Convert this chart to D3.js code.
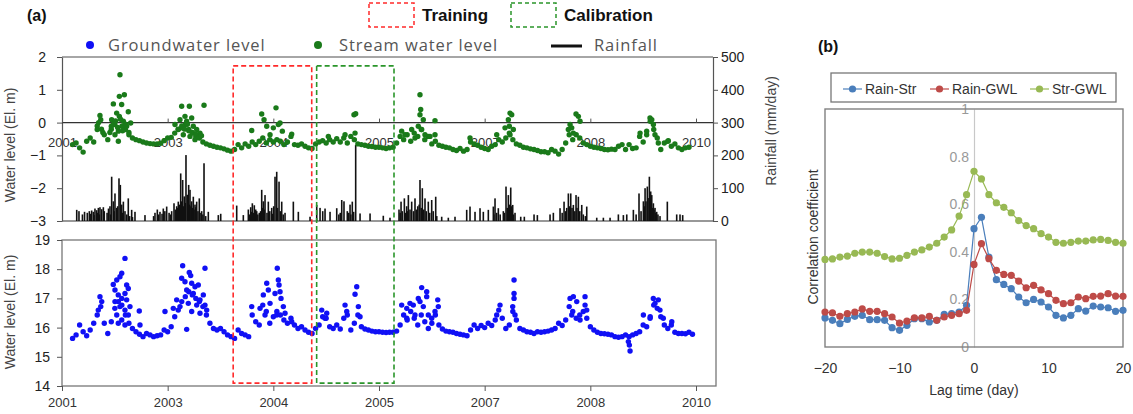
<!DOCTYPE html>
<html>
<head>
<meta charset="utf-8">
<script src="https://cdn.jsdelivr.net/npm/d3@7"></script>
<style>
  body { margin: 0; background: #fff; }
  svg { display: block; }
</style>
</head>
<body>
<svg id="chart" width="1133" height="414"></svg>
<script>
// ---- panel (a) data ----
const yearTicks = [2001, 2002.5, 2004, 2005.5, 2007, 2008.5, 2010]
const yearLabels = ["2001", "2003", "2004", "2005", "2007", "2008", "2010"]
const trainingPeriod = [2003.43, 2004.545]
const calibrationPeriod = [2004.615, 2005.713]

// regular traces: first sample at traceStart, one sample every traceStep years
const traceStart = 2001.15
const traceStep = 0.05

const streamLevel = [
  -0.67,-0.62,-0.77,-0.9,-0.57,-0.47,-0.59,-0.21,0.09,-0.37,
  -0.52,-0.11,-0.06,-0.26,-0.11,-0.21,-0.37,-0.47,-0.52,-0.55,
  -0.59,-0.62,-0.64,-0.65,-0.65,-0.63,-0.55,-0.47,-0.45,-0.32,
  -0.21,-0.16,-0.06,-0.21,-0.32,-0.42,-0.47,-0.59,-0.65,-0.69,
  -0.72,-0.75,-0.77,-0.8,-0.84,-0.87,-0.82,-0.67,-0.77,-0.65,
  -0.72,-0.59,-0.67,-0.57,-0.47,-0.62,-0.52,-0.59,-0.52,-0.57,
  -0.67,-0.59,-0.42,-0.67,-0.69,-0.65,-0.72,-0.77,-0.79,-0.65,
  -0.59,-0.55,-0.62,-0.52,-0.59,-0.49,-0.59,-0.47,-0.62,-0.42,
  -0.52,-0.65,-0.67,-0.69,-0.72,-0.73,-0.75,-0.75,-0.77,-0.79,
  -0.77,-0.75,-0.62,-0.42,-0.52,-0.37,-0.57,-0.32,-0.42,-0.21,
  -0.52,-0.42,-0.65,-0.57,-0.69,-0.72,-0.75,-0.77,-0.82,-0.85,
  -0.79,-0.87,-0.82,-0.59,-0.65,-0.69,-0.75,-0.79,-0.82,-0.72,
  -0.67,-0.52,-0.59,-0.47,-0.32,-0.52,-0.65,-0.69,-0.75,-0.77,
  -0.8,-0.82,-0.85,-0.89,-0.89,-0.92,-0.82,-0.87,-0.96,-0.82,
  -0.62,-0.37,-0.52,-0.37,-0.47,-0.62,-0.67,-0.72,-0.75,-0.77,
  -0.79,-0.82,-0.83,-0.81,-0.82,-0.72,-0.67,-0.82,-0.67,-0.79,
  -0.77,-0.42,-0.59,-0.37,0.04,-0.21,-0.47,-0.82,-0.62,-0.57,
  -0.72,-0.65,-0.77,-0.82,-0.77,-0.75
]

const groundwaterLevel = [
  15.63,15.75,16.09,15.86,15.72,15.92,16.15,16.43,16.72,16.15,
  15.8,16.2,16.66,16.89,16.77,16.43,16.15,15.97,15.86,15.77,
  15.69,15.8,15.75,15.69,15.72,15.75,15.92,15.86,16.03,16.37,
  16.6,16.89,17.06,17.23,17.12,17.0,16.89,16.72,16.43,16.15,
  15.97,15.92,15.97,15.86,15.75,15.69,15.63,15.92,15.8,15.75,
  15.69,16.43,16.2,16.09,16.77,16.55,16.15,16.37,16.55,16.43,
  16.26,16.15,16.32,16.09,15.97,16.03,15.92,15.84,15.8,15.97,
  16.09,16.37,16.32,16.03,15.97,16.09,15.95,16.32,16.43,15.92,
  16.15,16.43,16.03,15.95,15.92,15.88,15.86,15.86,15.84,15.83,
  15.84,15.84,15.88,16.09,16.43,16.26,16.55,16.32,16.09,16.43,
  16.2,15.97,16.15,16.43,16.09,15.95,15.88,15.86,15.84,15.8,
  15.77,15.75,15.72,15.92,16.09,15.97,16.07,16.0,16.15,16.07,
  16.26,16.6,16.32,15.97,16.09,16.55,16.26,15.97,15.92,15.86,
  15.84,15.8,15.86,15.84,15.86,15.88,15.92,15.97,16.15,16.07,
  16.26,16.72,16.55,16.32,16.43,16.55,16.32,16.03,15.92,15.84,
  15.8,15.79,15.77,15.75,15.69,15.67,15.69,15.75,15.69,15.75,
  15.8,15.86,16.09,16.03,16.37,16.77,16.66,16.37,16.09,15.97,
  16.09,15.84,15.8,15.8,15.79,15.84,15.77
]

// extra scattered readings during wet-season peaks: [year, value]
const streamPeaks = [
  [2001.823,1.46],[2001.814,0.80],[2001.885,0.85],[2001.729,0.57],[2001.847,0.55],
  [2001.941,0.33],[2001.776,0.29],[2001.539,0.22],[2001.705,0.09],[2001.814,0.19],
  [2001.871,0.04],[2001.752,-0.37],[2001.8,-0.57],[2001.918,-0.11],[2001.975,-0.01],
  [2001.70,-0.2],[2001.73,-0.05],[2001.76,0.05],[2001.79,-0.15],[2001.83,0.1],
  [2001.86,-0.25],[2001.9,-0.05],[2001.95,-0.3],[2001.68,-0.3],
  [2001.5,-0.1],[2001.52,0.0],[2001.56,-0.2],[2001.58,-0.3],
  [2002.699,0.50],[2002.808,0.50],[2003.016,0.53],[2002.746,0.19],[2002.841,0.14],
  [2002.675,0.09],[2002.77,0.04],[2002.604,-0.06],[2002.864,-0.11],[2002.912,-0.21],
  [2002.722,-0.37],[2002.817,-0.42],[2002.959,-0.32],[2002.888,-0.52],
  [2002.65,-0.2],[2002.7,-0.1],[2002.74,-0.2],[2002.78,-0.05],[2002.8,-0.25],
  [2002.85,-0.3],[2002.9,-0.35],[2002.94,-0.45],[2002.98,-0.4],
  [2003.835,0.26],[2004.038,0.45],[2003.868,0.09],[2003.906,-0.11],[2003.693,-0.24],
  [2004.0,-0.16],[2003.953,-0.37],[2004.071,-0.06],[2004.095,-0.01],[2004.128,-0.26],
  [2004.261,-0.35],
  [2005.145,0.24],[2005.169,0.27],[2005.16,-0.32],[2005.018,-0.37],[2004.781,-0.42],
  [2005.822,-0.26],[2005.869,-0.37],[2006.082,0.85],[2006.092,0.40],[2006.082,0.24],
  [2006.129,0.09],[2006.295,0.06],[2006.058,-0.11],[2006.106,-0.21],[2006.153,-0.37],
  [2006.224,-0.42],[2006.295,-0.37],[2005.964,-0.21],[2006.011,-0.47],[2006.792,-0.47],
  [2007.36,0.29],[2007.384,0.24],[2007.336,0.09],[2007.35,-0.11],[2007.289,-0.16],
  [2007.36,-0.37],[2007.407,-0.21],[2007.171,-0.37],
  [2008.297,0.26],[2008.33,0.19],[2008.212,-0.06],[2008.236,-0.16],[2008.259,-0.32],
  [2008.354,0.04],[2008.188,-0.21],
  [2009.347,0.14],[2009.372,0.09],[2009.395,-0.06],[2009.3,-0.26],[2009.418,-0.37],
  [2009.206,-0.32],[2009.607,-0.55],[2009.465,-0.62]
]

const groundwaterPeaks = [
  [2001.894,18.37],[2001.848,17.86],[2001.823,17.74],[2001.777,17.63],[2001.728,17.48],
  [2001.752,17.29],[2001.918,17.46],[2001.941,17.34],[2001.894,17.17],[2001.799,17.12],
  [2001.848,17.0],[2001.918,16.95],[2001.752,16.89],[2001.823,16.72],[2001.894,16.6],
  [2001.777,16.43],[2001.848,16.26],[2001.941,16.43],[2001.965,16.72],[2001.799,16.15],
  [2001.894,16.09],[2001.539,17.06],[2001.564,16.89],[2001.515,16.6],[2002.097,16.57],
  [2002.107,16.09],[2002.462,16.55],
  [2002.713,18.12],[2002.807,17.89],[2002.827,17.78],[2003.030,18.03],[2002.699,17.69],
  [2002.746,17.57],[2002.841,17.52],[2002.888,17.4],[2002.935,17.46],[2003.006,17.12],
  [2002.770,17.29],[2002.864,17.17],[2002.959,16.95],[2002.793,16.83],[2002.912,16.77],
  [2003.030,16.77],[2002.675,16.72],[2002.841,16.55],[2002.959,16.49],[2003.054,16.6],
  [2002.770,15.94],[2002.628,16.95],[2002.580,16.66],
  [2003.906,17.52],[2003.929,17.29],[2003.858,17.12],[2004.056,18.03],[2004.071,17.63],
  [2003.811,16.66],[2003.953,16.83],[2004.024,17.17],[2003.693,16.72],[2003.882,16.43],
  [2004.048,16.43],[2004.081,17.46],[2004.095,17.23],[2004.109,17.0],[2004.142,16.72],
  [2004.166,16.49],[2004.261,16.2],[2004.687,16.6],[2004.758,16.49],[2004.734,16.32],
  [2005.018,16.77],[2005.042,16.55],[2005.184,17.4],[2005.160,17.14],[2005.207,16.72],
  [2005.231,16.37],
  [2005.822,16.77],[2005.894,16.66],[2005.940,16.83],[2005.987,16.77],[2006.106,17.37],
  [2006.058,17.0],[2006.082,16.89],[2006.177,17.23],[2006.177,17.06],[2006.129,16.72],
  [2006.200,16.43],[2006.248,16.32],[2006.334,16.95],[2006.342,16.72],[2006.295,16.55],
  [2006.011,16.43],[2005.894,16.32],
  [2007.417,17.63],[2007.417,17.17],[2007.417,17.0],[2007.398,16.72],[2007.431,16.43],
  [2007.218,16.77],[2007.171,16.43],
  [2008.212,17.0],[2008.259,17.06],[2008.425,17.06],[2008.425,16.77],[2008.449,16.6],
  [2008.307,16.89],[2008.236,16.43],[2008.354,16.26],
  [2009.394,17.0],[2009.465,16.95],[2009.418,16.83],[2009.489,16.6],[2009.253,16.43],
  [2009.348,16.32],[2009.536,16.32],[2009.656,16.2],[2009.054,15.4],[2009.064,15.2],
  [2009.040,15.52]
]

// daily rainfall events: [year, mm/day]
const rainfall = [
  [2001.209,34],[2001.241,30],[2001.29,20],[2001.32,28],[2001.359,25],[2001.388,30],
  [2001.40,22],[2001.421,32],[2001.445,28],[2001.455,18],[2001.468,38],[2001.492,33],
  [2001.50,25],[2001.516,40],[2001.53,20],[2001.539,42],[2001.563,36],[2001.587,42],
  [2001.60,30],[2001.64,25],[2001.66,38],[2001.681,45],[2001.69,20],[2001.705,135],
  [2001.729,60],[2001.74,30],[2001.752,84],[2001.776,40],[2001.79,45],[2001.809,130],
  [2001.828,110],[2001.847,50],[2001.86,25],[2001.871,59],[2001.894,30],[2001.92,20],
  [2001.941,69],[2001.96,15],[2001.989,34],[2002.0,12],[2002.036,28],[2002.178,18],
  [2002.30,15],[2002.32,25],[2002.353,35],[2002.37,20],[2002.391,28],[2002.42,22],
  [2002.438,38],[2002.46,30],[2002.486,44],[2002.52,25],[2002.54,20],[2002.557,30],
  [2002.59,54],[2002.61,35],[2002.628,45],[2002.64,40],[2002.651,59],[2002.67,50],
  [2002.685,145],[2002.70,60],[2002.713,125],[2002.725,45],[2002.736,75],[2002.75,55],
  [2002.76,201],[2002.779,80],[2002.79,70],[2002.798,110],[2002.81,50],[2002.817,95],
  [2002.83,45],[2002.841,60],[2002.85,40],[2002.864,74],[2002.875,35],[2002.888,50],
  [2002.90,42],[2002.912,59],[2002.93,30],[2002.949,69],[2002.96,25],[2002.983,30],
  [2003.0,20],[2003.016,176],[2003.04,15],[2003.077,28],[2003.219,18],[2003.253,22],
  [2003.48,47],[2003.574,18],[2003.645,35],[2003.66,20],[2003.679,42],[2003.69,28],
  [2003.702,54],[2003.72,25],[2003.73,48],[2003.75,35],[2003.764,30],[2003.78,20],
  [2003.801,25],[2003.82,30],[2003.835,95],[2003.85,40],[2003.858,60],[2003.87,35],
  [2003.882,79],[2003.91,25],[2003.929,59],[2003.95,30],[2003.977,40],[2003.99,22],
  [2004.005,45],[2004.024,135],[2004.048,150],[2004.06,40],[2004.081,120],[2004.10,30],
  [2004.119,59],[2004.14,20],[2004.166,25],[2004.284,59],[2004.355,28],[2004.521,13],
  [2004.616,49],[2004.663,40],[2004.701,30],[2004.734,38],[2004.805,28],[2004.9,39],
  [2004.93,20],[2004.95,25],[2004.971,64],[2005.003,60],[2005.05,30],[2005.07,25],
  [2005.089,50],[2005.10,20],[2005.121,59],[2005.14,28],[2005.169,232],[2005.231,23],
  [2005.373,23],[2005.561,16],[2005.656,10],[2005.784,35],[2005.80,25],[2005.813,59],
  [2005.83,30],[2005.86,69],[2005.875,25],[2005.893,45],[2005.905,30],[2005.917,79],
  [2005.94,35],[2005.964,59],[2005.99,30],[2006.011,69],[2006.03,35],[2006.05,45],
  [2006.07,50],[2006.082,125],[2006.10,40],[2006.115,100],[2006.135,35],[2006.153,69],
  [2006.17,30],[2006.2,59],[2006.22,25],[2006.248,64],[2006.27,30],[2006.305,74],
  [2006.32,15],[2006.39,13],[2006.484,10],[2006.579,13],[2006.745,34],[2006.792,44],
  [2006.863,28],[2006.934,39],[2006.981,28],[2007.052,34],[2007.123,44],[2007.13,20],
  [2007.147,69],[2007.17,25],[2007.194,39],[2007.22,20],[2007.265,30],[2007.28,25],
  [2007.303,105],[2007.32,40],[2007.336,79],[2007.35,50],[2007.37,102],[2007.385,45],
  [2007.398,49],[2007.41,20],[2007.431,25],[2007.512,13],[2007.563,13],[2007.701,20],
  [2007.748,18],[2007.928,20],[2007.975,25],[2008.07,39],[2008.10,25],[2008.127,59],
  [2008.15,30],[2008.165,40],[2008.188,84],[2008.20,45],[2008.222,84],[2008.24,40],
  [2008.259,49],[2008.28,30],[2008.297,79],[2008.31,40],[2008.33,74],[2008.35,30],
  [2008.378,49],[2008.40,20],[2008.43,15],[2008.449,44],[2008.591,10],[2008.685,10],
  [2008.78,10],[2008.898,20],[2008.969,18],[2009.017,20],[2009.111,34],[2009.15,20],
  [2009.191,84],[2009.22,30],[2009.253,60],[2009.265,45],[2009.277,100],[2009.29,60],
  [2009.309,105],[2009.32,70],[2009.338,135],[2009.345,55],[2009.357,90],[2009.365,50],
  [2009.372,79],[2009.38,40],[2009.395,54],[2009.405,35],[2009.418,40],[2009.43,25],
  [2009.442,28],[2009.46,20],[2009.489,15],[2009.593,59],[2009.726,20],[2009.773,20],
  [2009.811,18]
]

// ---- panel (b) data ----
const lags = [-20,-19,-18,-17,-16,-15,-14,-13,-12,-11,-10,-9,-8,-7,-6,-5,-4,-3,-2,-1,
  0,1,2,3,4,5,6,7,8,9,10,11,12,13,14,15,16,17,18,19,20]
const rainStr = [0.122,0.112,0.098,0.116,0.129,0.133,0.115,0.115,0.112,0.081,
  0.07,0.091,0.119,0.119,0.105,0.112,0.137,0.14,0.147,0.175,
  0.497,0.545,0.378,0.283,0.263,0.245,0.21,0.186,0.2,0.189,
  0.168,0.133,0.122,0.133,0.161,0.151,0.172,0.168,0.165,0.15,0.154]
const rainGwl = [0.147,0.143,0.129,0.14,0.147,0.16,0.15,0.15,0.14,0.126,
  0.1,0.109,0.123,0.122,0.129,0.112,0.126,0.133,0.14,0.154,
  0.347,0.434,0.371,0.322,0.305,0.301,0.277,0.249,0.259,0.24,
  0.224,0.196,0.182,0.186,0.21,0.203,0.213,0.214,0.224,0.214,0.213]
const strGwl = [0.368,0.37,0.378,0.382,0.394,0.399,0.399,0.394,0.38,0.37,
  0.373,0.385,0.399,0.408,0.42,0.436,0.462,0.492,0.55,0.64,
  0.738,0.706,0.64,0.606,0.587,0.564,0.531,0.51,0.497,0.476,
  0.462,0.44,0.436,0.44,0.445,0.445,0.45,0.452,0.448,0.44,0.436]
const corrSeries = [
  { name: "Rain-Str", values: rainStr, color: "#4a7ebb" },
  { name: "Rain-GWL", values: rainGwl, color: "#be4b48" },
  { name: "Str-GWL", values: strGwl, color: "#98b954" }
]

const FONT = "Liberation Sans, Arial, sans-serif"
const svg = d3.select("#chart")

// ---------------- panel (a) ----------------
const x = d3.scaleLinear().domain([2001, 2010]).range([62, 696])
const yStr = d3.scaleLinear().domain([-3, 2]).range([221, 57])
const yRain = d3.scaleLinear().domain([0, 500]).range([221, 57])
const yGwl = d3.scaleLinear().domain([14, 19]).range([386, 240])
const topRight = 713, botRight = 716
const DOT = 2.7

const streamPts = streamLevel.map((v, i) => [traceStart + i * traceStep, v]).concat(streamPeaks)
const gwlPts = groundwaterLevel.map((v, i) => [traceStart + i * traceStep, v]).concat(groundwaterPeaks)

// frames
svg.append("line").attr("x1", 62).attr("x2", topRight).attr("y1", yStr(2)).attr("y2", yStr(2))
  .attr("stroke", "#888").attr("stroke-width", 1.3)
svg.append("line").attr("x1", 62).attr("x2", topRight).attr("y1", yStr(-3)).attr("y2", yStr(-3))
  .attr("stroke", "#333").attr("stroke-width", 1.2)
svg.append("rect").attr("x", 62).attr("y", yGwl(19))
  .attr("width", botRight - 62).attr("height", yGwl(14) - yGwl(19))
  .attr("fill", "none").attr("stroke", "#777").attr("stroke-width", 1.3)

function styleAxis(g, size) {
  g.selectAll(".domain").attr("stroke", "#555").attr("stroke-width", 1.2)
  g.selectAll(".tick line").attr("stroke", "#555")
  g.selectAll("text").attr("font-family", FONT).attr("font-size", size).attr("fill", "#222")
}
const intFmt = d3.format("d")

svg.append("g").attr("transform", "translate(62,0)")
  .call(d3.axisLeft(yStr).tickValues([-3, -2, -1, 0, 1, 2]).tickFormat(intFmt)
    .tickSize(5).tickPadding(11).tickSizeOuter(0))
  .call(g => styleAxis(g, "14px"))
svg.append("g").attr("transform", `translate(${topRight},0)`)
  .call(d3.axisRight(yRain).tickValues([0, 100, 200, 300, 400, 500]).tickFormat(intFmt)
    .tickSize(5).tickPadding(3).tickSizeOuter(0))
  .call(g => styleAxis(g, "14px"))

// zero line with inner year labels
svg.append("line").attr("x1", 62).attr("x2", topRight).attr("y1", yStr(0)).attr("y2", yStr(0))
  .attr("stroke", "#333").attr("stroke-width", 1.2)
svg.append("g").attr("transform", `translate(0,${yStr(0)})`)
  .call(d3.axisBottom(x).tickValues(yearTicks).tickFormat((d, i) => yearLabels[i]).tickSize(-4).tickPadding(15))
  .call(g => { g.select(".domain").remove(); styleAxis(g, "13px") })
  .selectAll("text").attr("fill", "#333")

// rainfall bars
svg.append("g").selectAll("rect").data(rainfall).join("rect")
  .attr("x", d => x(d[0]) - 0.8).attr("width", 1.6)
  .attr("y", d => yRain(d[1])).attr("height", d => yRain(0) - yRain(d[1]))
  .attr("fill", "#111")

// stream water level dots
svg.append("g").selectAll("circle").data(streamPts).join("circle")
  .attr("cx", d => x(d[0])).attr("cy", d => yStr(d[1])).attr("r", DOT)
  .attr("fill", "#1a7a1a")

// bottom panel axes
svg.append("g").attr("transform", "translate(62,0)")
  .call(d3.axisLeft(yGwl).tickValues([14, 15, 16, 17, 18, 19]).tickFormat(intFmt)
    .tickSize(5).tickPadding(7).tickSizeOuter(0))
  .call(g => { g.select(".domain").remove(); styleAxis(g, "14px") })
svg.append("g").attr("transform", `translate(0,${yGwl(14)})`)
  .call(d3.axisBottom(x).tickValues(yearTicks).tickFormat((d, i) => yearLabels[i]).tickSize(5).tickPadding(7))
  .call(g => { g.select(".domain").remove(); styleAxis(g, "13px") })
  .selectAll("text").attr("fill", "#333")

// groundwater dots
svg.append("g").selectAll("circle").data(gwlPts).join("circle")
  .attr("cx", d => x(d[0])).attr("cy", d => yGwl(d[1])).attr("r", DOT)
  .attr("fill", "#1010f5")

// training / calibration windows
const periods = [
  { span: trainingPeriod, color: "#ff2a2a" },
  { span: calibrationPeriod, color: "#2a952a" }
]
svg.append("g").selectAll("rect").data(periods).join("rect")
  .attr("x", d => x(d.span[0])).attr("width", d => x(d.span[1]) - x(d.span[0]))
  .attr("y", yStr(1.73)).attr("height", yGwl(14.1) - yStr(1.73))
  .attr("fill", "none").attr("stroke", d => d.color)
  .attr("stroke-width", 1.6).attr("stroke-dasharray", "5,3")

// axis titles
function vText(tx, ty, txt, size, color) {
  svg.append("text").attr("transform", `translate(${tx},${ty}) rotate(-90)`)
    .attr("text-anchor", "middle").attr("font-family", FONT).attr("font-size", size)
    .attr("fill", color).text(txt)
}
vText(15, 145, "Water level (El. m)", "14px", "#444")
vText(15, 312, "Water level (El. m)", "14px", "#444")
vText(776, 131, "Rainfall (mm/day)", "14px", "#444")

// legends (a)
svg.append("text").attr("x", 27).attr("y", 21).attr("font-family", FONT)
  .attr("font-size", "16px").attr("font-weight", "bold").attr("fill", "#111").text("(a)")
const boxLegend = [
  { label: "Training", color: "#ff2a2a", x0: 369 },
  { label: "Calibration", color: "#2a952a", x0: 511 }
]
boxLegend.forEach(d => {
  svg.append("rect").attr("x", d.x0).attr("y", 3).attr("width", 45).attr("height", 24)
    .attr("fill", "none").attr("stroke", d.color).attr("stroke-width", 1.5).attr("stroke-dasharray", "4,3")
  svg.append("text").attr("x", d.x0 + 53).attr("y", 21).attr("font-family", FONT)
    .attr("font-size", "17px").attr("font-weight", "bold").attr("fill", "#111").text(d.label)
})
const LFONT = "Open Sans, Noto Sans, sans-serif"
const seriesLegend = [
  { label: "Groundwater level", color: "#1010f5", mx: 90, tx: 108, kind: "dot" },
  { label: "Stream water level", color: "#1a7a1a", mx: 318, tx: 339, kind: "dot" },
  { label: "Rainfall", color: "#111", mx: 566, tx: 594, kind: "bar" }
]
seriesLegend.forEach(d => {
  if (d.kind === "dot") {
    svg.append("circle").attr("cx", d.mx).attr("cy", 45).attr("r", 4).attr("fill", d.color)
  } else {
    svg.append("line").attr("x1", d.mx - 15).attr("x2", d.mx + 16).attr("y1", 46).attr("y2", 46)
      .attr("stroke", d.color).attr("stroke-width", 3)
  }
  svg.append("text").attr("x", d.tx).attr("y", 51).attr("font-family", LFONT)
    .attr("font-size", "16.5px").attr("letter-spacing", "0.9px").attr("fill", "#555").text(d.label)
})

// ---------------- panel (b) ----------------
const xL = d3.scaleLinear().domain([-20, 20]).range([825, 1123])
const yC = d3.scaleLinear().domain([0, 1]).range([347, 109])

svg.append("text").attr("x", 818).attr("y", 52).attr("font-family", FONT)
  .attr("font-size", "16px").attr("font-weight", "bold").attr("fill", "#111").text("(b)")

svg.append("g").attr("transform", `translate(${xL(0)},0)`)
  .call(d3.axisLeft(yC).tickValues([0, 0.2, 0.4, 0.6, 0.8, 1]).tickSize(0).tickPadding(5)
    .tickFormat(d => d === 0 || d === 1 ? String(d) : d.toFixed(1)))
  .call(g => {
    g.select(".domain").attr("stroke", "#c8c8c8").attr("stroke-width", 1.2)
    g.selectAll("text").attr("font-family", FONT).attr("font-size", "14px").attr("fill", "#999")
  })

svg.append("rect").attr("x", xL(-20)).attr("y", yC(1))
  .attr("width", xL(20) - xL(-20)).attr("height", yC(0) - yC(1))
  .attr("fill", "none").attr("stroke", "#808080").attr("stroke-width", 1.4)

svg.append("g").attr("transform", `translate(0,${yC(0)})`)
  .call(d3.axisBottom(xL).tickValues([-20, -10, 0, 10, 20]).tickSize(0).tickPadding(16))
  .call(g => {
    g.select(".domain").remove()
    g.selectAll("text").attr("font-family", FONT).attr("font-size", "14px").attr("fill", "#333")
  })

svg.append("text").attr("x", xL(0)).attr("y", 395).attr("text-anchor", "middle")
  .attr("font-family", FONT).attr("font-size", "14px").attr("fill", "#333").text("Lag time (day)")
vText(818, 237, "Correlation coefficient", "14px", "#333")

const line = d3.line().x((d, i) => xL(lags[i])).y(d => yC(d))
corrSeries.forEach(s => {
  const g = svg.append("g")
  g.append("path").attr("d", line(s.values)).attr("fill", "none")
    .attr("stroke", s.color).attr("stroke-width", 1.2)
  g.selectAll("circle").data(s.values).join("circle")
    .attr("cx", (d, i) => xL(lags[i])).attr("cy", d => yC(d)).attr("r", 3.6)
    .attr("fill", s.color)
})

// legend (b)
svg.append("rect").attr("x", 831).attr("y", 73).attr("width", 285).attr("height", 29)
  .attr("fill", "#fff").attr("stroke", "#777").attr("stroke-width", 1.3)
const legX = [843, 930, 1030]
corrSeries.forEach((s, i) => {
  const lx = legX[i]
  svg.append("line").attr("x1", lx).attr("x2", lx + 19).attr("y1", 89).attr("y2", 89)
    .attr("stroke", s.color).attr("stroke-width", 1.2)
  svg.append("circle").attr("cx", lx + 9.5).attr("cy", 89).attr("r", 3.6).attr("fill", s.color)
  svg.append("text").attr("x", lx + 22).attr("y", 94).attr("font-family", FONT)
    .attr("font-size", "14px").attr("fill", "#333").text(s.name)
})
</script>
</body>
</html>
